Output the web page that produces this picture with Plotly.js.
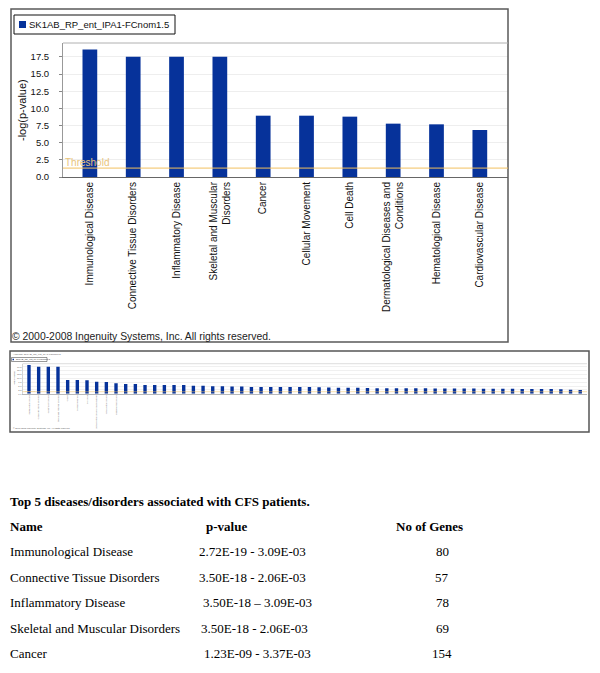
<!DOCTYPE html>
<html><head><meta charset="utf-8">
<script src="https://cdn.plot.ly/plotly-3.0.1.min.js"></script>
<style>html,body{margin:0;padding:0;background:#fff}#chart{width:600px;height:673px}</style>
</head><body><div id="chart"></div>
<script>
// ---- data ----
const seriesName = "SK1AB_RP_ent_IPA1-FCnom1.5";
const categories = ["Immunological Disease","Connective Tissue Disorders","Inflammatory Disease","Skeletal and Muscular Disorders","Cancer","Cellular Movement","Cell Death","Dermatological Diseases and Conditions","Hematological Disease","Cardiovascular Disease"];
const tickLabels = ["Immunological Disease","Connective Tissue Disorders","Inflammatory Disease","Skeletal and Muscular<br>Disorders","Cancer","Cellular Movement","Cell Death","Dermatological Diseases and<br>Conditions","Hematological Disease","Cardiovascular Disease"];
const negLogP = [18.6,17.55,17.55,17.55,8.94,8.94,8.8,7.78,7.68,6.85];
const thresholdValue = 1.3;
const yTickVals = [0,2.5,5,7.5,10,12.5,15,17.5];
// thumbnail (full list of categories) – remaining bars beyond the top 10
const moreNegLogP = [6.3,6.3,5.7,5.7,5.6,5.6,5.6,5.2,5.2,4.8,4.8,4.6,4.6,4.4,4.4,4.4,4.3,4.3,4.3,4.3,4.2,4.1,3.9,3.9,3.9,3.7,3.5,3.5,3.5,3.5,3.5,3.5,3.3,3.3,3.3,3.3,3.3,3.2,3.2,3.2,3.2,3.1,3.1,3.0,3.0,2.9,2.6,2.4];
const tableTitle = "Top 5 diseases/disorders associated with CFS patients.";
const tableHeader = ["Name","p-value","No of Genes"];
const tableNames = ["Immunological Disease","Connective Tissue Disorders","Inflammatory Disease","Skeletal and Muscular Disorders","Cancer"];
const tablePValues = ["2.72E-19 - 3.09E-03","3.50E-18 - 2.06E-03","3.50E-18 \u2013 3.09E-03","3.50E-18 - 2.06E-03","1.23E-09 - 3.37E-03"];
const tableGenes = [80,57,78,69,154];
const copyright = "\u00a9 2000-2008 Ingenuity Systems, Inc. All rights reserved.";

// ---- helpers (pixel -> paper) ----
const W=600,H=673;
const px=x=>x/W, py=y=>1-y/H;
const BAR='#06329a', SANS='Liberation Sans, Arial, sans-serif', SERIF='Liberation Serif, Times New Roman, serif';

const allVals = negLogP.concat(moreNegLogP);
const thumbIdx = allVals.map((v,i)=>i);

const traces = [
 {type:'bar', x:categories, y:negLogP, marker:{color:BAR}, width:0.34, xaxis:'x', yaxis:'y', showlegend:false, name:seriesName},
 {type:'bar', x:thumbIdx, y:allVals, marker:{color:BAR}, width:0.35, xaxis:'x2', yaxis:'y2', showlegend:false, name:seriesName}
];

const shapes = [
 {type:'rect',xref:'paper',yref:'paper',x0:px(11),x1:px(508),y0:py(9),y1:py(342),line:{color:'#5a5a5a',width:1.5}},
 {type:'rect',xref:'paper',yref:'paper',x0:px(14),x1:px(175),y0:py(15),y1:py(34),line:{color:'#111',width:1}},
 {type:'rect',xref:'paper',yref:'paper',x0:px(19),x1:px(26),y0:py(21),y1:py(28),line:{width:0},fillcolor:BAR},
 {type:'line',xref:'x domain',yref:'y domain',x0:0,x1:1,y0:1,y1:1,line:{color:'#b0b0b0',width:1}},
 {type:'line',xref:'x domain',yref:'y',x0:0,x1:1,y0:thresholdValue,y1:thresholdValue,line:{color:'#f2c060',width:1}},
 {type:'rect',xref:'paper',yref:'paper',x0:px(10),x1:px(589),y0:py(351),y1:py(432),line:{color:'#555',width:1.5}},
 {type:'rect',xref:'paper',yref:'paper',x0:px(11.5),x1:px(47),y0:py(357.5),y1:py(361.5),line:{color:'#333',width:0.5}},
 {type:'rect',xref:'paper',yref:'paper',x0:px(12.5),x1:px(14),y0:py(358.7),y1:py(360.3),line:{width:0},fillcolor:BAR},
 {type:'line',xref:'x2 domain',yref:'y2 domain',x0:0,x1:1,y0:1,y1:1,line:{color:'#c8c8c8',width:0.6}},
 {type:'line',xref:'x2 domain',yref:'y2',x0:0,x1:1,y0:thresholdValue,y1:thresholdValue,line:{color:'#f2c060',width:0.5}}
];

const annotations = [
 {xref:'paper',yref:'paper',x:px(27),y:py(24.5),xanchor:'left',yanchor:'middle',text:seriesName,showarrow:false,font:{family:SANS,size:9.5,color:'#111'}},
 {xref:'paper',yref:'paper',x:px(22),y:py(110),textangle:-90,xanchor:'center',yanchor:'middle',text:'-log(p-value)',showarrow:false,font:{family:SANS,size:11,color:'#111'}},
 {xref:'paper',yref:'paper',x:px(63),y:py(162),xanchor:'left',yanchor:'middle',text:'Threshold',showarrow:false,font:{family:SANS,size:10,color:'#e9c47a'}},
 {xref:'paper',yref:'paper',x:px(10),y:py(336),xanchor:'left',yanchor:'middle',text:copyright,showarrow:false,font:{family:SANS,size:10.4,color:'#222'}},
 {xref:'paper',yref:'paper',x:px(11),y:py(354.5),xanchor:'left',yanchor:'middle',text:'Analysis: '+seriesName,showarrow:false,font:{family:SANS,size:2.5,color:'#555'}},
 {xref:'paper',yref:'paper',x:px(14),y:py(359.5),xanchor:'left',yanchor:'middle',text:seriesName,showarrow:false,font:{family:SANS,size:2.3,color:'#333'}},
 {xref:'paper',yref:'paper',x:px(14),y:py(378),textangle:-90,xanchor:'center',yanchor:'middle',text:'-log(p-value)',showarrow:false,font:{family:SANS,size:2.5,color:'#555'}},
 {xref:'paper',yref:'paper',x:px(22.5),y:py(390.5),xanchor:'left',yanchor:'middle',text:'Threshold',showarrow:false,font:{family:SANS,size:2.3,color:'#e9c47a'}},
 {xref:'paper',yref:'paper',x:px(11),y:py(429),xanchor:'left',yanchor:'middle',text:copyright,showarrow:false,font:{family:SANS,size:2.3,color:'#555'}},
 {xref:'paper',yref:'paper',x:px(8),y:py(501),xanchor:'left',yanchor:'middle',text:'<b>'+tableTitle+'</b>',showarrow:false,font:{family:SERIF,size:13,color:'#000'}},
 {xref:'paper',yref:'paper',x:px(8),y:py(526),xanchor:'left',yanchor:'middle',text:'<b>'+tableHeader[0]+'</b>',showarrow:false,font:{family:SERIF,size:13,color:'#000'}},
 {xref:'paper',yref:'paper',x:px(204),y:py(526),xanchor:'left',yanchor:'middle',text:'<b>'+tableHeader[1]+'</b>',showarrow:false,font:{family:SERIF,size:13,color:'#000'}},
 {xref:'paper',yref:'paper',x:px(394),y:py(526),xanchor:'left',yanchor:'middle',text:'<b>'+tableHeader[2]+'</b>',showarrow:false,font:{family:SERIF,size:13,color:'#000'}}
];
const pX = [197,197,201,199,202];
tableNames.forEach((n,i)=>{
  const y = 551.5 + i*25.6;
  annotations.push({xref:'paper',yref:'paper',x:px(8),y:py(y),xanchor:'left',yanchor:'middle',text:n,showarrow:false,font:{family:SERIF,size:13,color:'#000'}});
  annotations.push({xref:'paper',yref:'paper',x:px(pX[i]),y:py(y),xanchor:'left',yanchor:'middle',text:tablePValues[i],showarrow:false,font:{family:SERIF,size:13,color:'#000'}});
  annotations.push({xref:'paper',yref:'paper',x:px(442),y:py(y),xanchor:'center',yanchor:'middle',text:String(tableGenes[i]),showarrow:false,font:{family:SERIF,size:13,color:'#000'}});
});

const layout = {
 width:W,height:H,margin:{l:0,r:0,t:0,b:0},paper_bgcolor:'#fff',plot_bgcolor:'#fff',showlegend:false,
 xaxis:{domain:[px(63),px(508)],type:'category',range:[-0.62,9.65],tickvals:categories,ticktext:tickLabels,tickangle:-90,
   tickfont:{family:SANS,size:10,color:'#111'},showline:true,linecolor:'#666',linewidth:1,ticks:'',showgrid:false,zeroline:false},
 yaxis:{domain:[py(177),py(43)],range:[0,19.54],tickvals:yTickVals,tickformat:'.1f',tickfont:{family:SANS,size:9.5,color:'#111'},
   ticks:'outside',ticklen:3,tickcolor:'#888',ticklabelstandoff:8,showline:true,linecolor:'#999',showgrid:true,gridcolor:'#eeeeee',zeroline:false},
 xaxis2:{domain:[px(22.5),px(587)],anchor:'y2',range:[-0.67,57.7],tickvals:thumbIdx.slice(0,categories.length),ticktext:categories,tickangle:-90,
   tickfont:{family:SANS,size:1.9,color:'#777'},showline:true,linecolor:'#888',linewidth:0.6,ticks:'',showgrid:false,zeroline:false},
 yaxis2:{domain:[py(393.7),py(363.7)],anchor:'x2',range:[0,19.5],tickvals:yTickVals,tickformat:'.1f',tickfont:{family:SANS,size:2.3,color:'#666'},
   ticks:'',showline:true,linecolor:'#aaa',linewidth:0.5,showgrid:true,gridcolor:'#f0f0f0',zeroline:false},
 bargap:0.66,shapes:shapes,annotations:annotations
};
Plotly.newPlot('chart',traces,layout,{staticPlot:true,displayModeBar:false});
</script></body></html>
